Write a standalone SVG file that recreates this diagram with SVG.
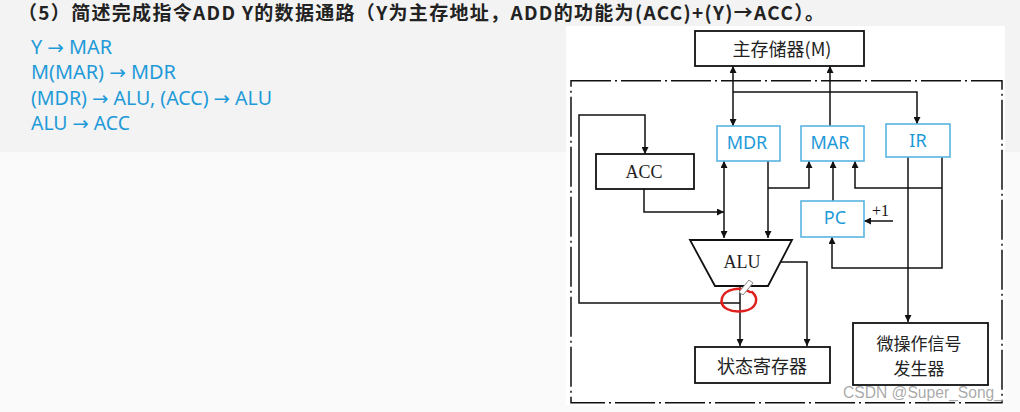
<svg xmlns="http://www.w3.org/2000/svg" width="1020" height="412" viewBox="0 0 1020 412">
<defs>
<marker id="ah" viewBox="0 0 10 10" refX="10" refY="5" markerWidth="10" markerHeight="7" markerUnits="userSpaceOnUse" orient="auto-start-reverse">
<path d="M0,0 L10,5 L0,10 z" fill="#111"/>
</marker>
<style>
.title{font-family:"Noto Sans CJK SC","Noto Sans",sans-serif;font-size:19px;font-weight:bold;fill:#222}
.step{font-family:"Noto Sans","Open Sans",sans-serif;font-size:19px;fill:#1e9ad8}
.arw{font-family:"DejaVu Sans",sans-serif}
.bk{fill:#fff;stroke:#111;stroke-width:1.8}
.bl{fill:#fff;stroke:#5ab4e0;stroke-width:1.6}
.bt{font-family:"Noto Sans","Open Sans",sans-serif;font-size:18px;fill:#1e9ad8;text-anchor:middle}
.st{font-family:"Liberation Serif","Noto Sans CJK SC",serif;font-size:18px;fill:#222;text-anchor:middle}
.cjk{font-family:"Noto Sans CJK SC","Liberation Serif",sans-serif;font-size:18px;fill:#222;text-anchor:middle}
.ln{fill:none;stroke:#111;stroke-width:1.5}
.ar{marker-end:url(#ah)}
.ar2{marker-start:url(#ah);marker-end:url(#ah)}
</style>
</defs>
<rect x="0" y="0" width="1020" height="412" fill="#fafafa"/>
<rect x="0" y="0" width="566" height="152" fill="#f3f3f3"/>
<rect x="566" y="0" width="454" height="26" fill="#f3f3f3"/>
<rect x="1005" y="26" width="15" height="126" fill="#f3f3f3"/>
<rect x="566" y="26" width="439" height="380" fill="#ffffff"/>

<g id="title">
<text class="title" x="18" y="20" textLength="806" lengthAdjust="spacing">（5）简述完成指令ADD Y的数据通路（Y为主存地址，ADD的功能为(ACC)+(Y)→ACC）。</text>
</g>
<g id="steps">
<text class="step" x="31" y="54" textLength="81" lengthAdjust="spacingAndGlyphs">Y <tspan class="arw">→</tspan> MAR</text>
<text class="step" x="31" y="79" textLength="145" lengthAdjust="spacingAndGlyphs">M(MAR) <tspan class="arw">→</tspan> MDR</text>
<text class="step" x="31" y="105" textLength="241" lengthAdjust="spacingAndGlyphs">(MDR) <tspan class="arw">→</tspan> ALU, (ACC) <tspan class="arw">→</tspan> ALU</text>
<text class="step" x="31" y="130" textLength="99" lengthAdjust="spacingAndGlyphs">ALU <tspan class="arw">→</tspan> ACC</text>
</g>

<g id="cpu-border">
<rect x="571" y="80.7" width="431" height="322" fill="none" stroke="#111" stroke-width="1.5" stroke-dasharray="40 4 2 4"/>
</g>

<g id="connectors">
<path class="ln ar2" d="M733,66 V126"/>
<path class="ln ar" d="M733,92 H917 V124"/>
<path class="ln ar" d="M830,126 V66"/>
<path class="ln ar" d="M740,303 H579 V115 H645 V154"/>
<path class="ln ar" d="M644,189 V212 H724"/>
<path class="ln ar2" d="M724,161 V238"/>
<path class="ln ar" d="M768,161 V238"/>
<path class="ln ar" d="M768,188 H809 V161"/>
<path class="ln ar" d="M833,201 V161"/>
<path class="ln ar" d="M942,157 V268 H832 V237"/>
<path class="ln ar" d="M942,188 H855 V161"/>
<path class="ln ar" d="M908,157 V322"/>
<path class="ln ar" d="M893,221 H864"/>
<path class="ln ar" d="M740,287 V346"/>
<path class="ln ar" d="M780,262 H807 V346"/>
</g>

<g id="mem">
<rect class="bk" x="695" y="31" width="169" height="35"/>
<text class="cjk" x="782" y="56">主存储器(M)</text>
</g>
<g id="acc">
<rect class="bk" x="596" y="154" width="98" height="35"/>
<text class="st" x="644" y="178">ACC</text>
</g>
<g id="mdr">
<rect class="bl" x="717" y="126" width="63" height="35"/>
<text class="bt" x="747" y="149">MDR</text>
</g>
<g id="mar">
<rect class="bl" x="801" y="126" width="63" height="35"/>
<text class="bt" x="830" y="149">MAR</text>
</g>
<g id="ir">
<rect class="bl" x="886" y="124" width="64" height="33"/>
<text class="bt" x="918" y="147">IR</text>
</g>
<g id="pc">
<rect class="bl" x="801" y="201" width="63" height="36"/>
<text class="bt" x="835" y="224">PC</text>
<text x="872" y="216" font-family="Liberation Serif,serif" font-size="16" fill="#111">+1</text>
</g>
<g id="alu">
<path class="bk" d="M690,240 H792 L768,286 H715 Z"/>
<text class="st" x="742" y="268">ALU</text>
</g>
<g id="status">
<rect class="bk" x="695" y="347" width="135" height="36"/>
<text class="cjk" x="762" y="373">状态寄存器</text>
</g>
<g id="ctrl">
<rect class="bk" x="853" y="323" width="135" height="62"/>
<text class="cjk" x="919" y="350" style="font-size:17px">微操作信号</text>
<text class="cjk" x="919" y="375" style="font-size:17px">发生器</text>
</g>

<g id="annotation">
<path d="M750,292 C740,286 725,289 722,298 C719,308 731,313 744,311 C756,309 760,299 752,292" fill="none" stroke="#e0201e" stroke-width="2.5" stroke-linecap="round"/>
<path d="M739,292 L749,280 L753,283 L743,295 Z" fill="#fff" stroke="#888" stroke-width="1"/>
</g>
<text x="843" y="398" font-family="Liberation Sans,Arial,sans-serif" font-size="16" fill="#9a9a9a" fill-opacity="0.85" textLength="160" lengthAdjust="spacingAndGlyphs">CSDN @Super_Song_</text>
</svg>
